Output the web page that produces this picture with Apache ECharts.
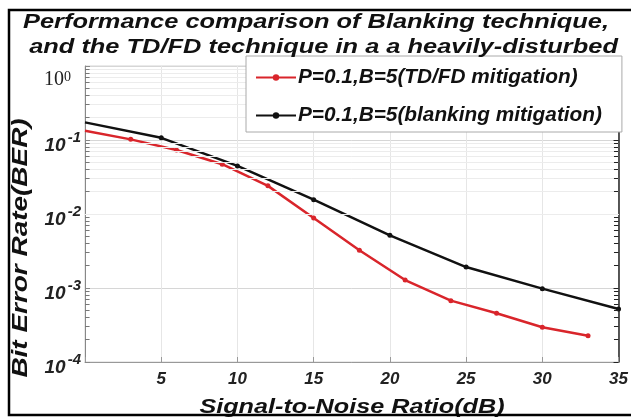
<!DOCTYPE html>
<html>
<head>
<meta charset="utf-8">
<script src="https://cdn.jsdelivr.net/npm/echarts@6/dist/echarts.min.js"></script>
<style>
  html, body { margin: 0; padding: 0; background: #fff; }
  #chart { width: 631px; height: 417px; }
</style>
</head>
<body>
<div id="chart"></div>
<script>
// SNR points (dB) and measured bit error rates
const snrTdfd = [0, 3, 6, 9, 12, 15, 18, 21, 24, 27, 30, 33];
const berTdfd = [0.1335, 0.102, 0.0733, 0.0471, 0.024, 0.00883, 0.00323, 0.00128, 0.000675, 0.000455, 0.000295, 0.000226];

const snrBlanking = [0, 5, 10, 15, 20, 25, 30, 35];
const berBlanking = [0.173, 0.107, 0.0447, 0.0156, 0.00515, 0.00192, 0.00098, 0.00052];

const seriesNames = ['P=0.1,B=5(TD/FD mitigation)', 'P=0.1,B=5(blanking mitigation)'];
const titleLines = ['Performance comparison of Blanking technique,', ' and the TD/FD technique in a a heavily-disturbed'];
const xTitle = 'Signal-to-Noise Ratio(dB)';
const yTitle = 'Bit Error Rate(BER)';
const xTicks = [0, 5, 10, 15, 20, 25, 30, 35];
const yDecades = [-4, -3, -2, -1, 0];

const FONT = '"Liberation Sans", Arial, sans-serif';
const BOLD_IT = 'italic bold ';

// minor log-grid values 2..9 x 10^k inside each decade
const minorVals = [];
for (let k = yDecades[0]; k < yDecades[yDecades.length - 1]; k++) {
  for (let m = 2; m <= 9; m++) minorVals.push(m * Math.pow(10, k));
}
const xMin = xTicks[0], xMax = xTicks[xTicks.length - 1];

const minorGrid = minorVals.map(v => ({ yAxis: v }));
const minorTicks = [];
minorVals.forEach(v => {
  minorTicks.push([{ coord: [xMin, v], lineStyle: { color: '#777' } }, { coord: [xMin + 0.3, v] }]);
  minorTicks.push([{ coord: [xMax - 0.3, v], lineStyle: { color: '#222' } }, { coord: [xMax, v] }]);
});

function pairs(xs, ys) {
  return xs.map((x, i) => ({ value: [x, ys[i]], symbolSize: x === xMin ? 0 : 5 }));
}

// wide bold-italic heading text
function wideText(text, x, y, size, stretch, rotation) {
  return {
    type: 'text',
    x: x, y: y,
    rotation: rotation || 0,
    scaleX: stretch,
    z: 50,
    silent: true,
    style: {
      text: text,
      font: BOLD_IT + size + 'px ' + FONT,
      fill: '#111',
      align: 'center',
      verticalAlign: 'middle'
    }
  };
}

const chart = echarts.init(document.getElementById('chart'), null, { renderer: 'canvas' });

chart.setOption({
  animation: false,
  backgroundColor: '#fff',
  legend: {
    data: seriesNames,
    orient: 'vertical',
    left: 246,
    top: 56,
    z: 20,
    padding: [11, 20, 6, 9],
    itemGap: 17,
    itemWidth: 40,
    itemHeight: 8,
    backgroundColor: '#fff',
    borderColor: '#aaa',
    borderWidth: 1,
    borderRadius: 0,
    textStyle: {
      fontFamily: FONT, fontWeight: 'bold', fontStyle: 'italic',
      fontSize: 20.8, color: '#111', padding: [0, 0, 0, -3]
    }
  },
  grid: {
    left: 85, right: 11, top: 66, bottom: 55,
    show: true, borderColor: '#d5d5d5', borderWidth: 1
  },
  xAxis: {
    type: 'value',
    min: xMin, max: xMax, interval: 5,
    axisLine: { lineStyle: { color: '#999', width: 1 } },
    axisTick: { inside: true, length: 5, lineStyle: { color: '#999' } },
    axisLabel: {
      margin: 9,
      fontFamily: FONT, fontWeight: 'bold', fontStyle: 'italic',
      fontSize: 17, color: '#222',
      formatter: v => (v === xMin ? '' : String(v))
    },
    splitLine: { show: true, lineStyle: { color: '#e6e6e6', width: 1 } }
  },
  yAxis: [{
    type: 'log',
    logBase: 10,
    min: Math.pow(10, yDecades[0]),
    max: Math.pow(10, yDecades[yDecades.length - 1]),
    axisLine: { show: true, lineStyle: { color: '#888', width: 1 } },
    axisTick: { inside: true, length: 5, lineStyle: { color: '#888' } },
    axisLabel: {
      margin: 4,
      formatter: v => {
        const e = Math.round(Math.log10(v));
        if (e === 0) return '{z|10}{zs|0}';
        return '{b|10}{s|' + e + '}';
      },
      rich: {
        b: { fontFamily: FONT, fontWeight: 'bold', fontStyle: 'italic', fontSize: 19, color: '#222', padding: [12, 0, 0, 0] },
        s: { fontFamily: FONT, fontWeight: 'bold', fontStyle: 'italic', fontSize: 15, color: '#222', padding: [0, 0, 5, 2] },
        z: { fontFamily: '"Liberation Serif", "DejaVu Serif", serif', fontSize: 20, color: '#222', padding: [28, 0, 0, 0] },
        zs: { fontFamily: '"Liberation Serif", "DejaVu Serif", serif', fontSize: 14, color: '#222', padding: [22, 10, 0, 0] }
      }
    },
    splitLine: { show: true, lineStyle: { color: '#d6d6d6', width: 1 } }
  }, {
    type: 'log',
    logBase: 10,
    position: 'right',
    min: Math.pow(10, yDecades[0]),
    max: Math.pow(10, yDecades[yDecades.length - 1]),
    axisLine: { show: true, lineStyle: { color: '#222', width: 1.5 } },
    axisTick: { inside: true, length: 5, lineStyle: { color: '#222' } },
    axisLabel: { show: false },
    splitLine: { show: false }
  }],
  series: [
    {
      name: 'grid-minor',
      type: 'line',
      data: [],
      z: 1,
      silent: true,
      markLine: {
        silent: true,
        symbol: 'none',
        label: { show: false },
        lineStyle: { color: '#ececec', type: 'solid', width: 1 },
        data: minorGrid.concat(minorTicks),
        animation: false
      }
    },
    {
      name: seriesNames[0],
      type: 'line',
      z: 3,
      data: pairs(snrTdfd, berTdfd),
      symbol: 'circle',
      showSymbol: true,
      color: '#d9252b',
      lineStyle: { color: '#d9252b', width: 2.5 },
      itemStyle: { color: '#d9252b' }
    },
    {
      name: seriesNames[1],
      type: 'line',
      z: 4,
      data: pairs(snrBlanking, berBlanking),
      symbol: 'circle',
      showSymbol: true,
      color: '#111',
      lineStyle: { color: '#111', width: 2.5 },
      itemStyle: { color: '#111' }
    }
  ],
  graphic: [
    wideText(titleLines[0], 316, 22.5, 21, 1.21),
    wideText(titleLines[1], 320, 47, 21, 1.21),
    wideText(xTitle, 352, 407, 21, 1.2),
    wideText(yTitle, 21, 248, 22, 1.27, Math.PI / 2),
    {
      type: 'polyline',
      z: 100,
      silent: true,
      shape: { points: [[631, 10], [9, 10], [9, 415], [631, 415]] },
      style: { stroke: '#000', lineWidth: 2.5, fill: null }
    }
  ]
});
</script>
</body>
</html>
